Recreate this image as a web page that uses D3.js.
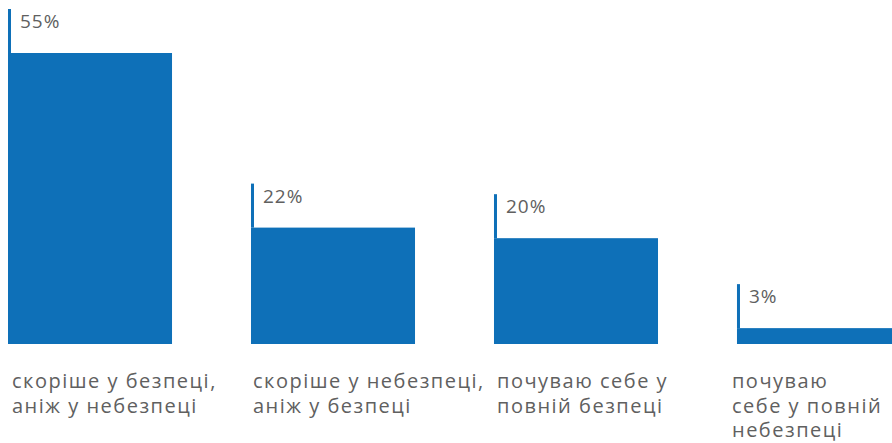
<!DOCTYPE html>
<html>
<head>
<meta charset="utf-8">
<script src="https://cdn.jsdelivr.net/npm/d3@7"></script>
<style>
  body { margin: 0; background: #fff; }
  svg { display: block; }
  text { font-family: "Open Sans", Lato, sans-serif; fill: #606060; }
</style>
</head>
<body>
<svg id="chart" width="892" height="443"></svg>
<script>
// data
const categories = ["c1", "c2", "c3", "c4"];
const values = [55, 22, 20, 3];
const valueLabels = ["55%", "22%", "20%", "3%"];
const categoryLines = [
    ["скоріше у безпеці,", "аніж у небезпеці"],
    ["скоріше у небезпеці,", "аніж у безпеці"],
    ["почуваю себе у", "повній безпеці"],
    ["почуваю", "себе у повній", "небезпеці"]
];
const labelOffsets = [4, 2, 3, -5]; // x shift of category text from bar edge

const barColor = "#0e70b8";
const baseY = 344;

const svg = d3.select("#chart");

const x = d3.scaleBand()
            .domain(categories)
            .range([8, 901])
            .paddingInner(0.325)
            .paddingOuter(0);

const y = d3.scaleLinear()
            .domain([0, 55])
            .range([baseY, 53]);

// bars
svg.selectAll(".bar")
   .data(values)
   .join("rect")
   .attr("class", "bar")
   .attr("x", (d, i) => x(categories[i]))
   .attr("y", d => y(d))
   .attr("width", x.bandwidth())
   .attr("height", d => baseY - y(d))
   .attr("fill", barColor);

// leader lines
svg.selectAll(".lead")
   .data(values)
   .join("rect")
   .attr("class", "lead")
   .attr("x", (d, i) => x(categories[i]))
   .attr("y", d => y(d) - 44)
   .attr("width", 3)
   .attr("height", 44)
   .attr("fill", barColor);

// value labels
svg.selectAll(".val")
   .data(values)
   .join("text")
   .attr("class", "val")
   .attr("x", (d, i) => x(categories[i]) + 12)
   .attr("y", d => y(d) - 25)
   .style("font-size", "19px")
   .style("letter-spacing", "1px")
   .text((d, i) => valueLabels[i]);

// category labels
const cat = svg.selectAll(".cat")
               .data(categoryLines)
               .join("text")
               .attr("class", "cat")
               .style("font-size", "20px")
               .style("letter-spacing", "1.5px");

cat.selectAll("tspan")
   .data((d, i) => d.map(t => ({ t, i })))
   .join("tspan")
   .attr("x", d => x(categories[d.i]) + labelOffsets[d.i])
   .attr("y", (d, j) => 388 + j * 24.5)
   .text(d => d.t);
</script>
</body>
</html>
